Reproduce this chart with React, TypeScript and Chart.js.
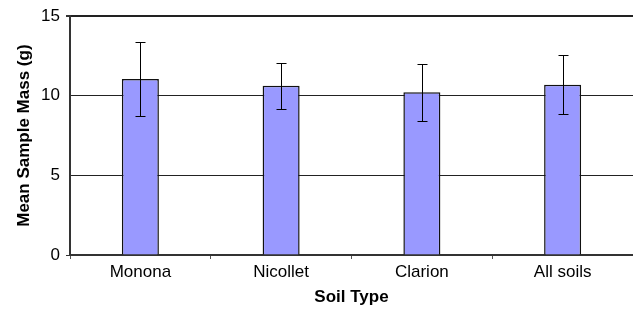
import React, { useEffect, useRef } from "react";
import { Chart, registerables } from "chart.js";

Chart.register(...registerables);

const categories = ["Monona", "Nicollet", "Clarion", "All soils"];
const means = [11.05, 10.63, 10.22, 10.7];
const errors = [2.3, 1.45, 1.8, 1.85];
const yTicks = [0, 5, 10, 15];
const xTitle = "Soil Type";
const yTitle = "Mean Sample Mass (g)";

const FONT = "'Liberation Sans', Arial, Helvetica, sans-serif";

const errorBarPlugin = {
  id: "errorBars",
  afterDatasetsDraw(chart: any) {
    const { ctx } = chart;
    const meta = chart.getDatasetMeta(0);
    const yScale = chart.scales.y;
    ctx.save();
    ctx.strokeStyle = "#000";
    ctx.lineWidth = 1;
    meta.data.forEach((bar: any, i: number) => {
      const x = Math.round(bar.x) + 0.5;
      const yTop = Math.round(yScale.getPixelForValue(means[i] + errors[i])) + 0.5;
      const yBot = Math.round(yScale.getPixelForValue(means[i] - errors[i])) + 0.5;
      const cap = 5;
      ctx.beginPath();
      ctx.moveTo(x, yTop);
      ctx.lineTo(x, yBot);
      ctx.moveTo(x - cap, yTop);
      ctx.lineTo(x + cap, yTop);
      ctx.moveTo(x - cap, yBot);
      ctx.lineTo(x + cap, yBot);
      ctx.stroke();
    });
    ctx.restore();
  },
};

export default function App() {
  const canvasRef = useRef<HTMLCanvasElement | null>(null);

  useEffect(() => {
    if (!canvasRef.current) return;
    const chart = new Chart(canvasRef.current, {
      type: "bar",
      data: {
        labels: categories,
        datasets: [
          {
            data: means,
            backgroundColor: "#9999FF",
            borderColor: "#111",
            borderWidth: 1.5,
            categoryPercentage: 1,
            barPercentage: 0.263,
          },
        ],
      },
      options: {
        animation: false,
        responsive: true,
        maintainAspectRatio: false,
        layout: { padding: { top: 15, right: 0, left: 0, bottom: 0 } },
        plugins: {
          legend: { display: false },
          tooltip: { enabled: false },
        },
        scales: {
          x: {
            offset: true,
            afterFit: (s: any) => {
              s.height = 55;
            },
            grid: {
              display: true,
              drawOnChartArea: false,
              drawTicks: true,
              tickLength: 4,
              offset: true,
              color: "#555",
              tickColor: "#555",
            },
            border: { display: true, color: "#333", width: 2 },
            ticks: {
              color: "#000",
              padding: 3,
              font: { family: FONT, size: 17 },
            },
            title: {
              display: true,
              text: xTitle,
              color: "#000",
              font: { family: FONT, size: 17, weight: "bold" },
              padding: { top: 0, bottom: 2 },
            },
          },
          y: {
            min: 0,
            max: 15,
            afterFit: (s: any) => {
              s.width = 70;
            },
            afterBuildTicks: (s: any) => {
              s.ticks = yTicks.map((v) => ({ value: v }));
            },
            grid: {
              color: "#222",
              lineWidth: (c: any) => (c.tick && c.tick.value === 15 ? 2 : 1),
              tickLength: 4,
              tickColor: (c: any) =>
                c.tick && (c.tick.value === 0 || c.tick.value === 15) ? "#333" : "rgba(0,0,0,0)",
            },
            border: { display: true, color: "#333", width: 2 },
            ticks: {
              color: "#000",
              padding: 6,
              font: { family: FONT, size: 17 },
            },
            title: {
              display: true,
              text: yTitle,
              color: "#000",
              font: { family: FONT, size: 17, weight: "bold" },
              padding: { top: 14, bottom: 0 },
            },
          },
        },
      },
      plugins: [errorBarPlugin],
    });
    return () => chart.destroy();
  }, []);

  return (
    <div style={{ position: "fixed", left: 0, top: 0, width: 633, height: 310, background: "#fff" }}>
      <canvas ref={canvasRef} />
    </div>
  );
}
